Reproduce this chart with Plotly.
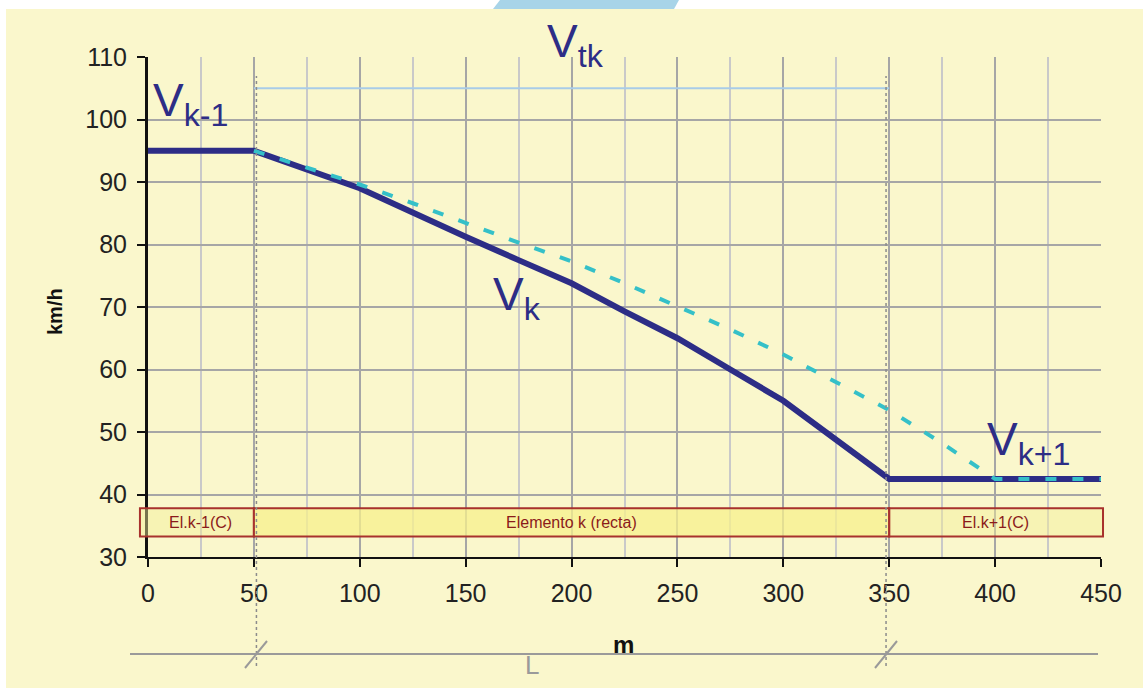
import plotly.graph_objects as go

# ---- data ----
x_vk = [0, 50, 100, 125, 150, 175, 200, 225, 250, 275, 300, 350, 450]
v_vk = [95, 95, 89, 85, 81.25, 77.5, 73.8, 69.3, 65, 60, 55, 42.5, 42.5]

x_dash = [50, 75, 100, 125, 150, 175, 200, 225, 250, 275, 300, 325, 350, 375, 400, 450]
v_dash = [95, 92.3, 89.6, 86.6, 83.4, 80.3, 77.3, 73.8, 70.1, 66.4, 62.4, 58, 53.5, 48.2, 42.5, 42.5]

vtk_x = [50, 350]
vtk_v = [105, 105]

element_names = ["El.k-1(C)", "Elemento k (recta)", "El.k+1(C)"]
element_start = [0, 50, 350]
element_end = [50, 350, 450]
element_band = [33.3, 37.8]

boundaries = [50, 350]

x_range = [0, 450]
y_range = [30, 110]

# ---- styling ----
BG = "#FAF7CC"
NAVY = "#2D2D86"
CYAN = "#35C0C8"
RED = "#A8322D"
TXT_RED = "#8B1A1A"
FONT = "Liberation Sans, Arial, sans-serif"

W, H = 1143, 688
ML, MR, MT, MB = 148, 42, 57, 131
PW, PH = W - ML - MR, H - MT - MB


def px_x(px):
    return (px - ML) / PW


def px_y(py):
    return (H - MB - py) / PH


def data_to_paper_x(v):
    return (v - x_range[0]) / (x_range[1] - x_range[0])


fig = go.Figure()

fig.add_trace(go.Scatter(x=vtk_x, y=vtk_v, mode="lines",
                         line=dict(color="#A8CCE8", width=2), hoverinfo="skip", showlegend=False))
fig.add_trace(go.Scatter(x=x_vk, y=v_vk, mode="lines",
                         line=dict(color=NAVY, width=6), showlegend=False))
fig.add_trace(go.Scatter(x=x_dash, y=v_dash, mode="lines",
                         line=dict(color=CYAN, width=4, dash="11px,16px"), showlegend=False))

shapes = []
# element boxes
overhang = 3.8
for i, (s, e) in enumerate(zip(element_start, element_end)):
    x0 = s - overhang if i == 0 else s
    x1 = e + overhang * 0.25 if i == len(element_start) - 1 else e
    fill = "rgba(247,240,140,0.75)" if i == 1 else "rgba(245,238,150,0.45)"
    shapes.append(dict(type="rect", xref="paper", yref="y",
                       x0=data_to_paper_x(x0), x1=data_to_paper_x(x1),
                       y0=element_band[0], y1=element_band[1],
                       fillcolor=fill, line=dict(color=RED, width=2), layer="above"))

# dotted boundary lines
for b in boundaries:
    shapes.append(dict(type="line", xref="x", yref="paper",
                       x0=b + (1.2 if b == 50 else -1.5), x1=b + (1.2 if b == 50 else -1.5),
                       y0=px_y(666), y1=px_y(76),
                       line=dict(color="#8C8C8C", width=1.5, dash="dot"), layer="above"))

# dimension line at bottom
shapes.append(dict(type="line", xref="paper", yref="paper",
                   x0=px_x(130), x1=px_x(1098), y0=px_y(654), y1=px_y(654),
                   line=dict(color="#9A9A9A", width=2)))
for cx in [256, 886]:
    shapes.append(dict(type="line", xref="paper", yref="paper",
                       x0=px_x(cx - 11), x1=px_x(cx + 11), y0=px_y(668), y1=px_y(641),
                       line=dict(color="#9A9A9A", width=2)))

# white top / left strips and blue tab
shapes.append(dict(type="rect", xref="paper", yref="paper",
                   x0=px_x(0), x1=px_x(W), y0=px_y(9), y1=px_y(0),
                   fillcolor="white", line=dict(width=0), layer="below"))
shapes.append(dict(type="rect", xref="paper", yref="paper",
                   x0=px_x(0), x1=px_x(6), y0=px_y(H), y1=px_y(0),
                   fillcolor="white", line=dict(width=0), layer="below"))
p = lambda a, b: f"{px_x(a)} {px_y(b)}"
shapes.append(dict(type="path", xref="paper", yref="paper",
                   path=f"M {p(493, 9)} L {p(674, 9)} L {p(679, 0)} L {p(500, 0)} Z",
                   fillcolor="#A8D4E8", line=dict(width=0), layer="below"))

annotations = []
for name, s, e in zip(element_names, element_start, element_end):
    annotations.append(dict(x=(s + e) / 2, y=sum(element_band) / 2, xref="x", yref="y",
                            text=name, showarrow=False,
                            font=dict(family=FONT, size=16, color=TXT_RED)))

lab = dict(showarrow=False, xref="x", yref="y", xanchor="left", yanchor="middle",
           font=dict(family=FONT, size=46, color=NAVY))
annotations.append(dict(lab, x=1.5, y=102.5, text="V<sub>k-1</sub>"))
annotations.append(dict(lab, xref="paper", yref="paper", x=px_x(545), y=px_y(44.5),
                        text="V<sub>tk</sub>"))
annotations.append(dict(lab, x=162, y=71.5, text="V<sub>k</sub>"))
annotations.append(dict(lab, x=395, y=48.4, text="V<sub>k+1</sub>"))

annotations.append(dict(x=px_x(55), y=px_y(312), xref="paper", yref="paper", text="<b>km/h</b>",
                        textangle=-90, showarrow=False, xanchor="center", yanchor="middle",
                        font=dict(family=FONT, size=20, color="#111111")))
annotations.append(dict(x=px_x(623), y=px_y(644), xref="paper", yref="paper", text="<b>m</b>",
                        showarrow=False, xanchor="center", yanchor="middle",
                        font=dict(family=FONT, size=24, color="#111111")))
annotations.append(dict(x=px_x(532), y=px_y(665), xref="paper", yref="paper", text="L",
                        showarrow=False, xanchor="center", yanchor="middle",
                        font=dict(family=FONT, size=26, color="#9A9A9A")))

fig.update_layout(
    width=W, height=H,
    margin=dict(l=ML, r=MR, t=MT, b=MB, pad=0),
    paper_bgcolor=BG, plot_bgcolor=BG,
    shapes=shapes, annotations=annotations,
    showlegend=False,
    font=dict(family=FONT, color="#222222"),
)
fig.update_xaxes(range=x_range, dtick=50, tick0=0,
                 showgrid=True, gridcolor="#A6A6A6", gridwidth=2,
                 minor=dict(dtick=25, showgrid=True, gridcolor="#C9C9C9", gridwidth=2),
                 showline=True, linecolor="#111111", linewidth=2,
                 ticks="outside", ticklen=8, tickwidth=2, tickcolor="#111111",
                 ticklabelstandoff=5,
                 tickfont=dict(family=FONT, size=25, color="#222222"),
                 zeroline=False)
fig.update_yaxes(range=y_range, dtick=10, tick0=30,
                 showgrid=True, gridcolor="#A6A6A6", gridwidth=2,
                 showline=True, linecolor="#111111", linewidth=3,
                 ticks="outside", ticklen=8, tickwidth=2, tickcolor="#111111",
                 ticklabelstandoff=5,
                 tickfont=dict(family=FONT, size=25, color="#222222"),
                 zeroline=False)

fig.write_html("out.html", config={"displayModeBar": False},
               post_script="document.body.style.margin='0';")
